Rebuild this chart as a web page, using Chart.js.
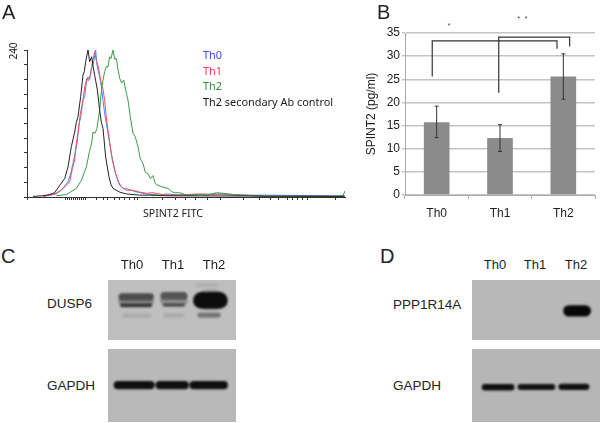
<!DOCTYPE html>
<html>
<head>
<meta charset="utf-8">
<script src="https://cdn.jsdelivr.net/npm/chart.js@4/dist/chart.umd.min.js"></script>
<style>
html, body { margin: 0; padding: 0; background: #fff; }
body { width: 600px; height: 423px; position: relative; overflow: hidden; font-family: "Liberation Sans", sans-serif; color: #222; }
canvas { position: absolute; }
.t { position: absolute; white-space: nowrap; line-height: 1; transform: translateY(-50%); }
.tc { transform: translate(-50%, -50%); }
.letter { font-size: 20px; color: #222; }
.lab { font-size: 13.5px; }
.lane { font-size: 13px; }
.flow { font-family: "Noto Sans", sans-serif; font-size: 10.9px; }
.blot { position: absolute; overflow: hidden; }
.blot canvas { filter: blur(1.2px); left: 0; top: 0; }
#histo { filter: blur(0.3px); }
#bars { filter: blur(0.25px); }
</style>
</head>
<body>
<canvas id="histo" width="360" height="225" style="left:0;top:0"></canvas>
<canvas id="bars" width="240" height="225" style="left:360px;top:0"></canvas>

<div class="t letter" style="left:2px;top:12px">A</div>
<div class="t letter" style="left:377px;top:12px">B</div>
<div class="t letter" style="left:1px;top:256px">C</div>
<div class="t letter" style="left:380px;top:256px">D</div>

<div class="t flow tc" style="left:13px;top:51px;font-size:10px;transform:translate(-50%,-50%) rotate(-90deg)">240</div>
<div class="t flow" style="left:203px;top:55px;color:#3a48e8">Th0</div>
<div class="t flow" style="left:203px;top:71px;color:#f0404e">Th1</div>
<div class="t flow" style="left:203px;top:86px;color:#2f8f3e">Th2</div>
<div class="t flow" style="left:203px;top:102px;color:#1a1a1a">Th2 secondary Ab control</div>
<div class="t flow tc" style="left:173px;top:213px;font-size:10.6px">SPINT2 FITC</div>
<div class="t tc" style="left:449px;top:26px;font-size:8px;color:#555">*</div>
<div class="t tc" style="left:523px;top:19px;font-size:8px;color:#555;letter-spacing:1px">* *</div>

<div class="t lane tc" style="left:132px;top:264px">Th0</div>
<div class="t lane tc" style="left:173px;top:264px">Th1</div>
<div class="t lane tc" style="left:214px;top:264px">Th2</div>
<div class="t lab" style="left:47px;top:304px">DUSP6</div>
<div class="t lab" style="left:47px;top:386px">GAPDH</div>
<div class="t lane tc" style="left:495px;top:264px">Th0</div>
<div class="t lane tc" style="left:535px;top:264px">Th1</div>
<div class="t lane tc" style="left:576px;top:264px">Th2</div>
<div class="t lab" style="left:393px;top:305px">PPP1R14A</div>
<div class="t lab" style="left:393px;top:386px">GAPDH</div>

<div class="blot" style="left:108px;top:280px;width:128px;height:60px;background:#bfbfbf"><canvas id="blotDusp6" width="128" height="60"></canvas></div>
<div class="blot" style="left:108px;top:349px;width:128px;height:73px;background:#b9b9b9"><canvas id="blotGapdhC" width="128" height="73"></canvas></div>
<div class="blot" style="left:472px;top:280px;width:128px;height:60px;background:#b8b8b8"><canvas id="blotPpp" width="128" height="60"></canvas></div>
<div class="blot" style="left:472px;top:349px;width:128px;height:73px;background:#b6b6b6"><canvas id="blotGapdhD" width="128" height="73"></canvas></div>

<script>
// panel A, [channel, count]
var th0Curve = [[48,1],[78,4],[103,11],[123,25],[132,40],[138,55],[150,87],[156,118],[163,136],[168,158],[173,164],[178,186],[183,196],[188,192],[193,210],[199,218],[206,240],[210,215],[213,207],[218,196],[223,180],[228,158],[233,136],[243,104],[253,71],[263,44],[273,25],[288,14],[303,13],[318,10],[338,7],[358,5],[398,3],[418,5],[438,4],[478,3],[518,4],[568,5],[618,3],[718,3],[918,2],[953,2]];
var th1Curve = [[48,1],[88,5],[108,14],[120,20],[128,25],[136,46],[143,60],[148,88],[153,104],[160,136],[168,158],[174,182],[180,194],[185,190],[190,199],[197,222],[203,237],[208,222],[213,215],[223,185],[228,176],[233,158],[238,130],[243,109],[250,82],[256,60],[266,38],[278,19],[298,11],[318,11],[338,8],[358,6],[378,7],[408,4],[438,3],[478,4],[518,5],[558,4],[588,5],[648,3],[718,1],[953,1]];
var th2Curve = [[88,2],[118,4],[148,14],[163,27],[178,49],[188,76],[194,88],[198,106],[204,104],[210,112],[214,128],[218,142],[223,172],[228,191],[233,205],[238,213],[243,212],[248,229],[252,226],[258,240],[263,225],[268,226],[273,208],[278,194],[284,186],[290,191],[297,172],[303,158],[310,130],[318,104],[325,98],[333,82],[340,62],[348,55],[355,40],[363,38],[370,30],[378,35],[385,22],[393,19],[408,16],[423,14],[433,9],[443,7],[458,7],[480,3],[518,4],[540,3],[568,7],[590,6],[618,4],[718,1],[918,1],[948,2],[954,10]];
var controlCurve = [[18,1],[48,2],[68,4],[83,7],[98,19],[113,30],[123,49],[133,82],[143,106],[148,122],[153,131],[161,164],[168,199],[172,205],[176,221],[183,240],[188,221],[194,229],[198,214],[203,199],[211,175],[218,142],[223,122],[228,112],[236,65],[246,33],[252,20],[258,14],[278,8],[298,5],[338,3],[368,3],[420,2],[953,1]];
var channelTicks = [0,114,120,126,132,138,144,150,156,162,168,174,207,228,240,263,278,293,308,323,332,405,444,474,504,540,579,648,696,729,753,780,795,810,825,840,924];

// panel B
var groups = ['Th0', 'Th1', 'Th2'];
var spint2 = [15.7, 12.3, 25.6];
var spint2Low = [12.4, 9.4, 20.7];
var spint2High = [19.2, 15.2, 30.5];
var bracketLeft = [[0.43,25.6],[0.43,33.3],[2.40,33.3],[2.40,31.6]];
var bracketRight = [[1.48,22.1],[1.48,34.1],[2.60,34.1],[2.60,32.1]];

// western blots: start, end, top, bottom (percent of the blot), density 0..1
var dusp6Bands = [
    [11,33,30,42,0.3],[44,59,28,42,0.25],[77,83,16,50,0.22],
    [11,33,22,34,0.6],[11,33,39,45.5,0.72],[13,32,56,63,0.1],
    [44,59,20,33,0.56],[44,59,39,44,0.66],[45,58,55,63,0.1],
    [73,87,20,48,0.93],[72,86,54,63,0.38],[70,85,5,12,0.07]
];
var gapdhCBands = [[7.6,33.3,44,55,0.92],[40.3,60,44,55,0.92],[66.8,90.5,44,55,0.92]];
var ppp1r14aBands = [[75.7,88.5,42,61,0.96]];
var gapdhDBands = [[10.2,30.6,48,57,0.92],[37.9,62.8,48,56,0.9],[69.9,89.3,47.5,56,0.92]];

function xy(pairs) {
    return pairs.map(function (p) { return { x: p[0], y: p[1] }; });
}

function curve(pairs, color) {
    return { data: xy(pairs), borderColor: color, borderWidth: 1, pointRadius: 0, tension: 0 };
}

new Chart(document.getElementById('histo').getContext('2d'), {
    type: 'line',
    data: {
        datasets: [
            curve(controlCurve, '#222222'),
            curve(th2Curve, '#3c9a4a'),
            curve(th1Curve, '#f0505c'),
            curve(th0Curve, '#3f8df0')
        ]
    },
    options: {
        responsive: false,
        animation: false,
        layout: { padding: { top: 50, right: 15 } },
        plugins: { legend: { display: false }, tooltip: { enabled: false } },
        scales: {
            x: {
                type: 'linear',
                min: 0,
                max: 954,
                afterBuildTicks: function (scale) {
                    scale.ticks = channelTicks.map(function (v) { return { value: v }; });
                },
                afterFit: function (scale) { scale.height = 28; },
                grid: { drawOnChartArea: false, tickLength: 3, color: '#333' },
                border: { color: '#333' },
                ticks: { display: false }
            },
            y: {
                min: 0,
                max: 240,
                afterFit: function (scale) { scale.width = 27; },
                grid: { drawOnChartArea: false, tickLength: 3, color: '#333' },
                border: { color: '#333' },
                ticks: { stepSize: 24, display: false }
            }
        }
    }
});

var overlay = [
    { type: 'line', data: xy(bracketLeft), xAxisID: 'pos', borderColor: '#333', borderWidth: 1.2, pointRadius: 0 },
    { type: 'line', data: xy(bracketRight), xAxisID: 'pos', borderColor: '#333', borderWidth: 1.2, pointRadius: 0 }
];
groups.forEach(function (g, i) {
    overlay.push({
        type: 'line',
        data: [{ x: i + 0.5, y: spint2Low[i] }, { x: i + 0.5, y: spint2High[i] }],
        xAxisID: 'pos',
        borderColor: '#333',
        borderWidth: 1,
        pointStyle: 'line',
        pointRadius: 2,
        pointBorderColor: '#333',
        pointBorderWidth: 1
    });
});

new Chart(document.getElementById('bars').getContext('2d'), {
    type: 'bar',
    data: {
        labels: groups,
        datasets: overlay.concat([{
            data: spint2,
            backgroundColor: '#8b8b8b',
            grouped: false,
            barPercentage: 0.405,
            categoryPercentage: 1
        }])
    },
    options: {
        responsive: false,
        animation: false,
        layout: { padding: { top: 33, right: 2 } },
        plugins: { legend: { display: false }, tooltip: { enabled: false } },
        scales: {
            x: {
                afterFit: function (scale) { scale.height = 30; },
                grid: { drawOnChartArea: false, tickLength: 4, color: '#aaa' },
                border: { color: '#aaa' },
                ticks: { color: '#222', padding: 7, font: { family: '"Liberation Sans"', size: 12 } }
            },
            pos: { type: 'linear', axis: 'x', offset: false, min: 0, max: 3, display: false },
            y: {
                min: 0,
                max: 35,
                afterFit: function (scale) { scale.width = 45; },
                grid: { color: '#c4c4c4', lineWidth: 1.4, tickLength: 3 },
                border: { color: '#aaa' },
                ticks: { stepSize: 5, color: '#222', padding: 2, font: { family: '"Liberation Sans"', size: 12 } },
                title: { display: true, text: 'SPINT2 (pg/ml)', color: '#222', padding: { top: 4, bottom: 0 }, font: { family: '"Liberation Sans"', size: 12 } }
            }
        }
    }
});

function blot(id, bands) {
    var canvas = document.getElementById(id);
    new Chart(canvas.getContext('2d'), {
        type: 'line',
        data: {
            // later rows are painted on top of earlier ones
            datasets: bands.map(function (b, i) {
                var shade = Math.round(190 * (1 - b[4]));
                return {
                    data: [{ x: b[0], y: (b[2] + b[3]) / 2 }, { x: b[1], y: (b[2] + b[3]) / 2 }],
                    borderColor: 'rgb(' + shade + ',' + shade + ',' + shade + ')',
                    borderWidth: (b[3] - b[2]) * canvas.height / 100,
                    borderCapStyle: 'round',
                    pointRadius: 0,
                    order: bands.length - i
                };
            })
        },
        options: {
            responsive: false,
            animation: false,
            plugins: { legend: { display: false }, tooltip: { enabled: false } },
            scales: {
                x: { type: 'linear', min: 0, max: 100, display: false },
                y: { min: 0, max: 100, reverse: true, display: false }
            }
        }
    });
}

blot('blotDusp6', dusp6Bands);
blot('blotGapdhC', gapdhCBands);
blot('blotPpp', ppp1r14aBands);
blot('blotGapdhD', gapdhDBands);
</script>
</body>
</html>
